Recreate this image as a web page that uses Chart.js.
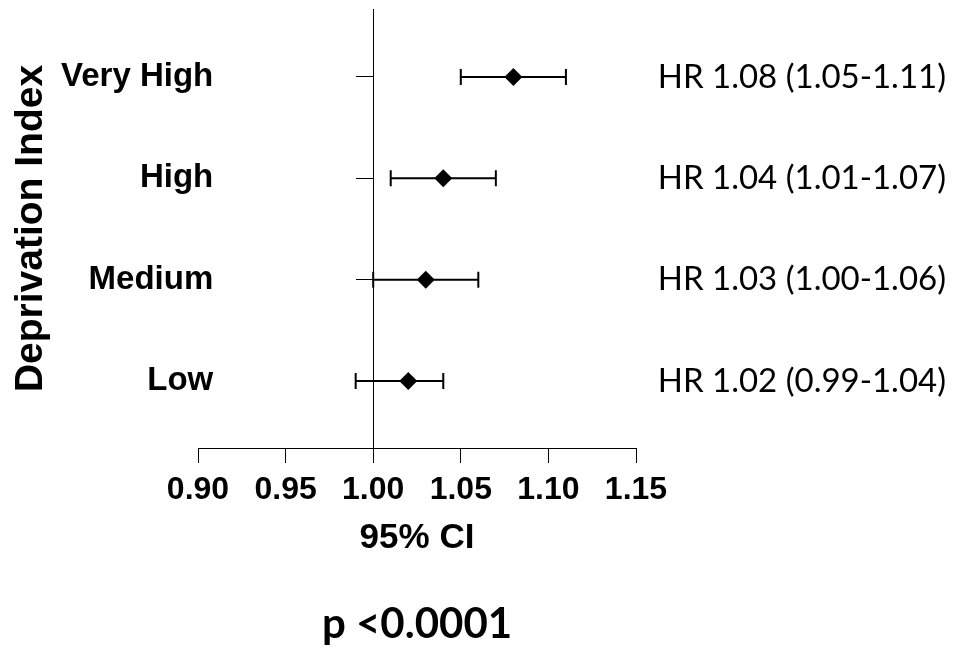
<!DOCTYPE html>
<html>
<head>
<meta charset="utf-8">
<script src="https://cdn.jsdelivr.net/npm/chart.js@4.4.1/dist/chart.umd.min.js"></script>
<style>
  html, body { margin: 0; padding: 0; background: #fff; }
  #wrap { width: 954px; height: 654px; }
</style>
</head>
<body>
<div id="wrap"><canvas id="forest"></canvas></div>
<script>
// groups listed top to bottom, as in the picture
var groups = ['Very High', 'High', 'Medium', 'Low'];
var hr = [1.08, 1.04, 1.03, 1.02];
var ciLow = [1.05, 1.01, 1.00, 0.99];
var ciHigh = [1.11, 1.07, 1.06, 1.04];
var hrLabels = ['HR 1.08 (1.05-1.11)', 'HR 1.04 (1.01-1.07)', 'HR 1.03 (1.00-1.06)', 'HR 1.02 (0.99-1.04)'];
var xTicks = [0.90, 0.95, 1.00, 1.05, 1.10, 1.15];
var rows = [4, 3, 2, 1]; // y value of each group
var pValue = 'p <0.0001';

var ARIAL = '"Liberation Sans", Arial, sans-serif';
var CALIBRI = 'Lato, "Open Sans", sans-serif';

function rowTicks(scale) {
    scale.ticks = rows.slice().reverse().map(function(v) { return {value: v}; });
}
function labelFor(list) {
    return function(value) {
        var i = rows.indexOf(value);
        return i >= 0 ? list[i] : '';
    };
}
// keep the tick labels from pushing the plot area down
function noPad(scale) {
    scale.paddingTop = 0;
    scale.paddingBottom = 0;
}

// whiskers + caps for the confidence intervals
var errorBars = {
    id: 'errorBars',
    beforeDatasetsDraw: function(chart) {
        var ctx = chart.ctx;
        var x = chart.scales.x, y = chart.scales.y;
        ctx.save();
        ctx.strokeStyle = '#000';
        ctx.lineWidth = 2;
        rows.forEach(function(r, i) {
            var py = y.getPixelForValue(r);
            var x1 = x.getPixelForValue(ciLow[i]);
            var x2 = x.getPixelForValue(ciHigh[i]);
            ctx.beginPath();
            ctx.moveTo(x1, py); ctx.lineTo(x2, py);
            ctx.moveTo(x1, py - 8); ctx.lineTo(x1, py + 8);
            ctx.moveTo(x2, py - 8); ctx.lineTo(x2, py + 8);
            ctx.stroke();
        });
        ctx.restore();
    }
};

new Chart(document.getElementById('forest').getContext('2d'), {
    type: 'scatter',
    data: {
        datasets: [{
            data: hr.map(function(v, i) { return {x: v, y: rows[i]}; }),
            pointStyle: 'rectRot',
            pointRadius: 9,
            pointHoverRadius: 9,
            backgroundColor: '#000',
            borderColor: '#000',
            borderWidth: 0
        }]
    },
    options: {
        responsive: true,
        maintainAspectRatio: false,
        animation: false,
        layout: { padding: { top: 8, right: 8, bottom: 0, left: 0 } },
        plugins: { legend: { display: false }, tooltip: { enabled: false } },
        scales: {
            x: {
                type: 'linear',
                position: 'bottom',
                weight: 0,
                min: 0.90,
                max: 1.15,
                afterBuildTicks: function(scale) {
                    scale.ticks = xTicks.map(function(v) { return {value: v}; });
                },
                afterFit: function(scale) { scale.height = 111; },
                grid: { drawOnChartArea: false, drawTicks: true, tickLength: 15, color: '#000' },
                border: { display: true, color: '#000', width: 1 },
                ticks: {
                    color: '#000',
                    padding: 8,
                    maxRotation: 0,
                    autoSkip: false,
                    font: { family: ARIAL, size: 32, weight: 'bold' },
                    callback: function(v) { return Number(v).toFixed(2); }
                },
                title: {
                    display: true,
                    text: '95% CI',
                    color: '#000',
                    padding: { top: 0, bottom: 0 },
                    font: { family: ARIAL, size: 35, weight: 'bold' }
                }
            },
            x2: {
                type: 'linear',
                axis: 'x',
                position: 'bottom',
                weight: 1,
                min: 0.90,
                max: 1.15,
                afterFit: function(scale) { scale.height = 95; },
                grid: { display: false },
                border: { display: false },
                ticks: { display: false },
                title: {
                    display: true,
                    text: pValue,
                    color: '#000',
                    padding: { top: 0, bottom: 4 },
                    font: { family: CALIBRI, size: 42, weight: 'bold' }
                }
            },
            y: {
                type: 'linear',
                position: 'left',
                min: 0.34,
                max: 4.67,
                afterBuildTicks: rowTicks,
                afterFit: function(scale) { scale.width = 198; noPad(scale); },
                grid: { display: false },
                border: { display: false },
                ticks: {
                    color: '#000',
                    mirror: true,
                    crossAlign: 'far',
                    padding: -137,
                    font: { family: ARIAL, size: 33, weight: 'bold' },
                    callback: labelFor(groups)
                },
                title: {
                    display: true,
                    text: 'Deprivation Index',
                    color: '#000',
                    padding: { top: 8, bottom: 0 },
                    font: { family: ARIAL, size: 39, weight: 'bold' }
                }
            },
            y2: {
                type: 'linear',
                axis: 'y',
                position: { x: 1.00 },
                min: 0.34,
                max: 4.67,
                afterBuildTicks: rowTicks,
                afterFit: noPad,
                grid: { drawOnChartArea: false, drawTicks: true, tickLength: 17, color: '#000' },
                border: { display: true, color: '#000', width: 1 },
                ticks: { display: false }
            },
            yR: {
                type: 'linear',
                axis: 'y',
                position: 'right',
                min: 0.34,
                max: 4.67,
                afterBuildTicks: rowTicks,
                afterFit: function(scale) { scale.width = 310; noPad(scale); },
                grid: { display: false },
                border: { display: false },
                ticks: {
                    color: '#000',
                    crossAlign: 'far',
                    padding: 0,
                    font: { family: CALIBRI, size: 33 },
                    callback: labelFor(hrLabels)
                }
            }
        }
    },
    plugins: [errorBars]
});
</script>
</body>
</html>
